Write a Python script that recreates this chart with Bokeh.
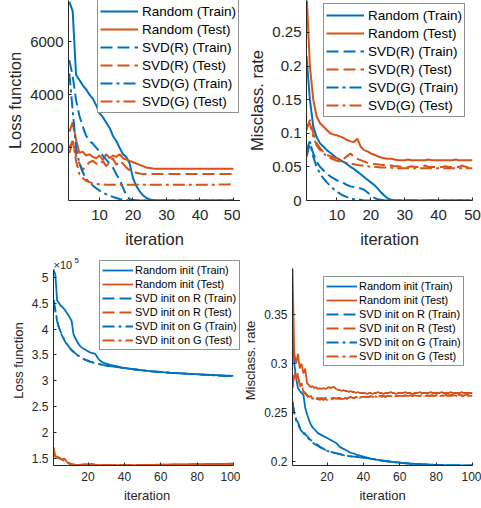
from bokeh.plotting import figure
from bokeh.models import Range1d, FixedTicker, CustomJSTickFormatter, Legend, LegendItem, Label
from bokeh.layouts import column, row
from bokeh.embed import file_html
from bokeh.resources import INLINE

FONT = "Liberation Sans"
BLUE = "#0072BD"
ORANGE = "#D95319"
AX = "#262626"

# ---------------- data: top-left (loss function, 50 iterations) ----------------
tl_rand_train = [7500, 7150, 4750, 4550, 4350, 4200, 4000, 3850, 3600, 3300,
                 3150, 2950, 2750, 2450, 2250, 2000, 1750, 1650, 1400, 850,
                 550, 350, 200, 100, 45, 20, 12, 8, 6, 5,
                 5, 5, 5, 5, 5, 5, 5, 5, 5, 5,
                 5, 5, 5, 5, 5, 5, 5, 5, 5, 5]
tl_rand_test = [2600, 2950, 2300, 1800, 1850, 1700, 1750, 1650, 1600, 1700,
                1550, 1750, 1600, 1700, 1650, 1750, 1600, 1550, 1500, 1450,
                1400, 1350, 1300, 1250, 1230, 1210, 1200, 1200, 1200, 1200,
                1200, 1200, 1200, 1200, 1200, 1200, 1200, 1200, 1200, 1200,
                1200, 1200, 1200, 1200, 1200, 1200, 1200, 1200, 1200, 1200]
tl_svdr_train = [5300, 4700, 3800, 3200, 2800, 2450, 2250, 2150, 2000, 1850,
                 1700, 1550, 1400, 1250, 1000, 800, 500, 200, 60, 20,
                 10, 8, 6, 5, 5, 5, 5, 5, 5, 5,
                 5, 5, 5, 5, 5, 5, 5, 5, 5, 5,
                 5, 5, 5, 5, 5, 5, 5, 5, 5, 5]
tl_svdr_test = [1800, 2250, 1700, 1400, 1150, 1300, 1450, 1500, 1400, 1350,
                1500, 1300, 1450, 1600, 1350, 1500, 1400, 1250, 1150, 1100,
                1050, 1020, 1000, 1000, 1000, 1000, 1000, 1000, 1000, 1000,
                1000, 1000, 1000, 1000, 1000, 1000, 1000, 1000, 1000, 1000,
                1000, 1000, 1000, 1000, 1000, 1000, 1000, 1000, 1000, 1000]
tl_svdg_train = [4800, 3400, 2000, 1400, 1070, 820, 680, 570, 470, 380,
                 300, 240, 190, 140, 100, 60, 40, 25, 15, 10,
                 5, 5, 5, 5, 5, 5, 5, 5, 5, 5,
                 5, 5, 5, 5, 5, 5, 5, 5, 5, 5,
                 5, 5, 5, 5, 5, 5, 5, 5, 5, 5]
tl_svdg_test = [2000, 2250, 1500, 1000, 850, 750, 700, 650, 630, 620,
                610, 600, 600, 600, 600, 600, 600, 600, 600, 600,
                600, 600, 600, 600, 600, 600, 600, 600, 600, 600,
                600, 600, 600, 600, 600, 600, 600, 600, 600, 600,
                600, 600, 600, 600, 600, 610, 610, 610, 620, 620]

# ---------------- data: top-right (misclassification rate, 50 iterations) ----------------
tr_rand_train = [0.215, 0.15, 0.11, 0.094, 0.085, 0.08, 0.075, 0.071, 0.067, 0.063,
                 0.06, 0.057, 0.054, 0.05, 0.047, 0.043, 0.039, 0.035, 0.031, 0.027,
                 0.023, 0.018, 0.012, 0.007, 0.003, 0.001, 0, 0, 0, 0,
                 0, 0, 0, 0, 0, 0, 0, 0, 0, 0,
                 0, 0, 0, 0, 0, 0, 0, 0, 0, 0]
tr_rand_test = [0.31, 0.2, 0.15, 0.125, 0.115, 0.11, 0.105, 0.1, 0.098, 0.097,
                0.095, 0.093, 0.09, 0.088, 0.087, 0.092, 0.08, 0.075, 0.073, 0.07,
                0.068, 0.066, 0.064, 0.063, 0.062, 0.062, 0.061, 0.06, 0.06, 0.06,
                0.061, 0.06, 0.06, 0.06, 0.06, 0.06, 0.061, 0.06, 0.06, 0.06,
                0.06, 0.06, 0.06, 0.06, 0.061, 0.06, 0.06, 0.06, 0.06, 0.06]
tr_svdr_train = [0.065, 0.085, 0.07, 0.058, 0.05, 0.045, 0.04, 0.036, 0.033, 0.03,
                 0.028, 0.026, 0.023, 0.021, 0.02, 0.019, 0.018, 0.016, 0.012, 0.008,
                 0.004, 0.002, 0.001, 0, 0, 0, 0, 0, 0, 0,
                 0, 0, 0, 0, 0, 0, 0, 0, 0, 0,
                 0, 0, 0, 0, 0, 0, 0, 0, 0, 0]
tr_svdr_test = [0.105, 0.12, 0.1, 0.085, 0.078, 0.072, 0.068, 0.066, 0.064, 0.063,
                0.062, 0.062, 0.066, 0.07, 0.065, 0.062, 0.06, 0.058, 0.056, 0.055,
                0.054, 0.054, 0.053, 0.053, 0.052, 0.052, 0.051, 0.051, 0.05, 0.05,
                0.05, 0.051, 0.05, 0.05, 0.05, 0.052, 0.05, 0.05, 0.05, 0.05,
                0.05, 0.051, 0.05, 0.05, 0.05, 0.05, 0.052, 0.05, 0.05, 0.05]
tr_svdg_train = [0.075, 0.088, 0.065, 0.05, 0.04, 0.033, 0.027, 0.022, 0.017, 0.013,
                 0.01, 0.007, 0.005, 0.003, 0.002, 0.001, 0.001, 0, 0, 0,
                 0, 0, 0, 0, 0, 0, 0, 0, 0, 0,
                 0, 0, 0, 0, 0, 0, 0, 0, 0, 0,
                 0, 0, 0, 0, 0, 0, 0, 0, 0, 0]
tr_svdg_test = [0.11, 0.115, 0.095, 0.082, 0.075, 0.07, 0.066, 0.063, 0.061, 0.059,
                0.058, 0.057, 0.056, 0.055, 0.054, 0.053, 0.052, 0.052, 0.051, 0.05,
                0.05, 0.05, 0.049, 0.049, 0.049, 0.049, 0.048, 0.048, 0.048, 0.048,
                0.048, 0.048, 0.048, 0.048, 0.048, 0.048, 0.048, 0.048, 0.048, 0.048,
                0.048, 0.048, 0.048, 0.048, 0.048, 0.048, 0.048, 0.048, 0.048, 0.048]

# ---------------- data: bottom-left (loss function x1e5, 100 iterations) ----------------
bl_rand_train = [5.15, 5.05, 4.55, 4.50, 4.45, 4.42, 4.38, 4.33, 4.28, 4.22,
                 4.15, 3.90, 3.82, 3.76, 3.70, 3.66, 3.63, 3.61, 3.59, 3.57,
                 3.55, 3.54, 3.53, 3.52, 3.46, 3.41, 3.38, 3.36, 3.34, 3.33,
                 3.32, 3.31, 3.30, 3.295, 3.29, 3.28, 3.27, 3.26, 3.255, 3.25,
                 3.245, 3.24, 3.235, 3.23, 3.225, 3.22, 3.215, 3.21, 3.205, 3.20,
                 3.197, 3.193, 3.19, 3.187, 3.184, 3.181, 3.178, 3.175, 3.172, 3.17,
                 3.167, 3.164, 3.162, 3.16, 3.157, 3.155, 3.153, 3.151, 3.149, 3.147,
                 3.145, 3.143, 3.141, 3.139, 3.137, 3.135, 3.133, 3.131, 3.13, 3.128,
                 3.126, 3.124, 3.122, 3.12, 3.118, 3.117, 3.115, 3.113, 3.112, 3.11,
                 3.108, 3.107, 3.105, 3.104, 3.102, 3.10, 3.099, 3.098, 3.096, 3.095]
bl_rand_test = [1.72, 1.55, 1.52, 1.50, 1.49, 1.48, 1.50, 1.45, 1.42, 1.40,
                1.39, 1.385, 1.38, 1.378, 1.375, 1.38, 1.385, 1.39, 1.39, 1.385,
                1.39, 1.395, 1.39, 1.38, 1.375, 1.372, 1.37, 1.37, 1.37, 1.37,
                1.37, 1.37, 1.37, 1.371, 1.371, 1.371, 1.371, 1.372, 1.372, 1.372,
                1.372, 1.373, 1.373, 1.373, 1.374, 1.374, 1.374, 1.375, 1.375, 1.375,
                1.376, 1.376, 1.377, 1.377, 1.378, 1.378, 1.379, 1.379, 1.38, 1.38,
                1.381, 1.381, 1.382, 1.382, 1.383, 1.383, 1.384, 1.384, 1.385, 1.385,
                1.386, 1.386, 1.387, 1.387, 1.388, 1.388, 1.389, 1.389, 1.39, 1.39,
                1.391, 1.391, 1.392, 1.392, 1.393, 1.393, 1.394, 1.394, 1.395, 1.395,
                1.396, 1.396, 1.397, 1.397, 1.398, 1.398, 1.399, 1.399, 1.40, 1.40]
bl_svdr_train = [4.55, 4.35, 4.15, 4.02, 3.93, 3.85, 3.78, 3.72, 3.67, 3.63,
                 3.59, 3.56, 3.53, 3.50, 3.47, 3.45, 3.43, 3.41, 3.40, 3.38,
                 3.37, 3.36, 3.35, 3.34, 3.33, 3.32, 3.315, 3.31, 3.30, 3.295,
                 3.29, 3.285, 3.28, 3.275, 3.27, 3.265, 3.26, 3.255, 3.25, 3.245,
                 3.24, 3.235, 3.23, 3.226, 3.222, 3.218, 3.214, 3.21, 3.206, 3.202,
                 3.198, 3.194, 3.19, 3.187, 3.184, 3.18, 3.177, 3.174, 3.171, 3.168,
                 3.165, 3.162, 3.16, 3.157, 3.155, 3.152, 3.15, 3.148, 3.146, 3.144,
                 3.142, 3.14, 3.138, 3.136, 3.134, 3.132, 3.13, 3.128, 3.126, 3.124,
                 3.122, 3.12, 3.118, 3.116, 3.114, 3.112, 3.11, 3.108, 3.106, 3.104,
                 3.102, 3.10, 3.098, 3.096, 3.094, 3.092, 3.09, 3.088, 3.086, 3.085]
bl_svdr_test = [1.57, 1.55, 1.53, 1.52, 1.50, 1.48, 1.46, 1.44, 1.42, 1.40,
                1.39, 1.38, 1.375, 1.372, 1.37, 1.37, 1.37, 1.369, 1.369, 1.369,
                1.369, 1.369, 1.369, 1.369, 1.369, 1.369, 1.369, 1.37, 1.37, 1.37,
                1.37, 1.37, 1.37, 1.37, 1.371, 1.371, 1.371, 1.371, 1.372, 1.372,
                1.372, 1.372, 1.373, 1.373, 1.373, 1.374, 1.374, 1.374, 1.375, 1.375,
                1.375, 1.376, 1.376, 1.377, 1.377, 1.377, 1.378, 1.378, 1.379, 1.379,
                1.38, 1.38, 1.38, 1.381, 1.381, 1.382, 1.382, 1.382, 1.383, 1.383,
                1.384, 1.384, 1.385, 1.385, 1.385, 1.386, 1.386, 1.387, 1.387, 1.388,
                1.388, 1.388, 1.389, 1.389, 1.39, 1.39, 1.39, 1.391, 1.391, 1.392,
                1.392, 1.392, 1.393, 1.393, 1.394, 1.394, 1.394, 1.395, 1.395, 1.395]
bl_svdg_train = [4.57, 4.37, 4.16, 4.03, 3.94, 3.86, 3.79, 3.73, 3.68, 3.63,
                 3.59, 3.56, 3.53, 3.50, 3.48, 3.45, 3.43, 3.42, 3.40, 3.39,
                 3.37, 3.36, 3.35, 3.34, 3.33, 3.325, 3.315, 3.31, 3.30, 3.295,
                 3.29, 3.285, 3.28, 3.275, 3.27, 3.265, 3.26, 3.255, 3.25, 3.245,
                 3.24, 3.235, 3.23, 3.226, 3.222, 3.218, 3.214, 3.21, 3.206, 3.203,
                 3.199, 3.195, 3.191, 3.188, 3.184, 3.181, 3.178, 3.175, 3.172, 3.169,
                 3.166, 3.163, 3.16, 3.158, 3.155, 3.153, 3.151, 3.149, 3.147, 3.145,
                 3.143, 3.141, 3.139, 3.137, 3.135, 3.133, 3.131, 3.129, 3.127, 3.125,
                 3.123, 3.121, 3.119, 3.117, 3.115, 3.113, 3.111, 3.109, 3.107, 3.105,
                 3.103, 3.101, 3.099, 3.097, 3.095, 3.093, 3.091, 3.089, 3.087, 3.086]
bl_svdg_test = [1.56, 1.54, 1.52, 1.51, 1.49, 1.47, 1.45, 1.43, 1.41, 1.395,
                1.385, 1.378, 1.373, 1.37, 1.369, 1.368, 1.368, 1.368, 1.368, 1.368,
                1.368, 1.368, 1.368, 1.368, 1.368, 1.368, 1.368, 1.369, 1.369, 1.369,
                1.369, 1.369, 1.37, 1.37, 1.37, 1.37, 1.371, 1.371, 1.371, 1.371,
                1.372, 1.372, 1.372, 1.373, 1.373, 1.373, 1.374, 1.374, 1.374, 1.374,
                1.375, 1.375, 1.376, 1.376, 1.376, 1.377, 1.377, 1.378, 1.378, 1.378,
                1.379, 1.379, 1.38, 1.38, 1.381, 1.381, 1.381, 1.382, 1.382, 1.383,
                1.383, 1.383, 1.384, 1.384, 1.385, 1.385, 1.385, 1.386, 1.386, 1.387,
                1.387, 1.387, 1.388, 1.388, 1.389, 1.389, 1.389, 1.39, 1.39, 1.391,
                1.391, 1.391, 1.392, 1.392, 1.393, 1.393, 1.393, 1.394, 1.394, 1.394]

# ---------------- data: bottom-right (misclassification rate, 100 iterations) ----------------
br_rand_train = [0.334, 0.30, 0.285, 0.275, 0.272, 0.27, 0.268, 0.255, 0.248, 0.243,
                 0.238, 0.235, 0.233, 0.231, 0.229, 0.228, 0.227, 0.226, 0.225, 0.224,
                 0.223, 0.222, 0.221, 0.22, 0.219, 0.217, 0.215, 0.214, 0.213, 0.212,
                 0.211, 0.21, 0.209, 0.2085, 0.208, 0.207, 0.2065, 0.206, 0.2055, 0.205,
                 0.2045, 0.204, 0.2035, 0.203, 0.2027, 0.2024, 0.2021, 0.2018, 0.2015, 0.2012,
                 0.201, 0.2007, 0.2004, 0.2001, 0.1999, 0.1997, 0.1995, 0.1993, 0.1991, 0.1989,
                 0.1987, 0.1985, 0.1984, 0.1982, 0.1981, 0.1979, 0.1978, 0.1977, 0.1976, 0.1975,
                 0.1974, 0.1973, 0.1972, 0.1971, 0.197, 0.1969, 0.1968, 0.1968, 0.1967, 0.1966,
                 0.1966, 0.1965, 0.1965, 0.1964, 0.1964, 0.1963, 0.1963, 0.1962, 0.1962, 0.1962,
                 0.1961, 0.1961, 0.1961, 0.1961, 0.196, 0.196, 0.196, 0.196, 0.196, 0.196]
br_rand_test = [0.397, 0.31, 0.30, 0.31, 0.295, 0.30, 0.29, 0.295, 0.28, 0.278,
                0.276, 0.277, 0.275, 0.276, 0.274, 0.275, 0.274, 0.275, 0.274, 0.275,
                0.276, 0.275, 0.276, 0.276, 0.274, 0.273, 0.273, 0.272, 0.273, 0.272,
                0.272, 0.271, 0.272, 0.271, 0.271, 0.270, 0.271, 0.270, 0.270, 0.270,
                0.270, 0.269, 0.270, 0.270, 0.269, 0.270, 0.270, 0.271, 0.270, 0.270,
                0.269, 0.270, 0.270, 0.270, 0.271, 0.270, 0.270, 0.269, 0.270, 0.270,
                0.270, 0.270, 0.271, 0.270, 0.270, 0.270, 0.269, 0.270, 0.270, 0.270,
                0.271, 0.270, 0.270, 0.270, 0.270, 0.270, 0.271, 0.270, 0.270, 0.270,
                0.270, 0.270, 0.271, 0.270, 0.270, 0.270, 0.270, 0.271, 0.270, 0.270,
                0.270, 0.270, 0.270, 0.271, 0.270, 0.270, 0.270, 0.270, 0.270, 0.270]
br_svdr_train = [0.262, 0.25, 0.243, 0.24, 0.235, 0.232, 0.23, 0.228, 0.226, 0.224,
                 0.222, 0.221, 0.219, 0.218, 0.217, 0.215, 0.214, 0.213, 0.212, 0.211,
                 0.2105, 0.21, 0.2095, 0.209, 0.2085, 0.208, 0.2075, 0.207, 0.2065, 0.206,
                 0.2058, 0.2056, 0.2054, 0.2052, 0.205, 0.2048, 0.2046, 0.2044, 0.2042, 0.204,
                 0.2038, 0.2035, 0.2032, 0.2029, 0.2026, 0.2023, 0.202, 0.2017, 0.2014, 0.2011,
                 0.2009, 0.2006, 0.2003, 0.2001, 0.1999, 0.1997, 0.1995, 0.1993, 0.1991, 0.1989,
                 0.1987, 0.1985, 0.1984, 0.1982, 0.1981, 0.1979, 0.1978, 0.1977, 0.1976, 0.1975,
                 0.1974, 0.1973, 0.1972, 0.1971, 0.197, 0.1969, 0.1968, 0.1968, 0.1967, 0.1966,
                 0.1966, 0.1965, 0.1965, 0.1964, 0.1964, 0.1963, 0.1963, 0.1962, 0.1962, 0.1962,
                 0.1961, 0.1961, 0.1961, 0.1961, 0.196, 0.196, 0.196, 0.196, 0.196, 0.196]
br_svdr_test = [0.276, 0.292, 0.285, 0.29, 0.278, 0.28, 0.272, 0.27, 0.268, 0.266,
                0.267, 0.265, 0.266, 0.264, 0.265, 0.264, 0.265, 0.264, 0.265, 0.264,
                0.265, 0.264, 0.265, 0.265, 0.264, 0.265, 0.265, 0.264, 0.265, 0.265,
                0.265, 0.265, 0.266, 0.265, 0.265, 0.266, 0.265, 0.266, 0.266, 0.266,
                0.266, 0.266, 0.266, 0.267, 0.266, 0.266, 0.267, 0.266, 0.267, 0.267,
                0.267, 0.266, 0.267, 0.267, 0.267, 0.267, 0.266, 0.267, 0.267, 0.267,
                0.267, 0.267, 0.268, 0.267, 0.267, 0.267, 0.267, 0.268, 0.267, 0.267,
                0.267, 0.268, 0.267, 0.267, 0.268, 0.267, 0.267, 0.268, 0.267, 0.268,
                0.268, 0.267, 0.268, 0.267, 0.268, 0.268, 0.267, 0.268, 0.268, 0.268,
                0.267, 0.268, 0.268, 0.268, 0.267, 0.268, 0.268, 0.268, 0.268, 0.268]
br_svdg_train = [0.26, 0.249, 0.242, 0.238, 0.234, 0.231, 0.229, 0.227, 0.225, 0.223,
                 0.221, 0.22, 0.218, 0.217, 0.216, 0.215, 0.214, 0.213, 0.212, 0.211,
                 0.2105, 0.21, 0.2095, 0.209, 0.2085, 0.208, 0.2075, 0.207, 0.2065, 0.206,
                 0.2057, 0.2055, 0.2053, 0.2051, 0.2049, 0.2047, 0.2045, 0.2043, 0.2041, 0.2039,
                 0.2037, 0.2034, 0.2031, 0.2028, 0.2025, 0.2022, 0.2019, 0.2016, 0.2013, 0.201,
                 0.2008, 0.2005, 0.2002, 0.2, 0.1998, 0.1996, 0.1994, 0.1992, 0.199, 0.1988,
                 0.1986, 0.1984, 0.1983, 0.1981, 0.198, 0.1978, 0.1977, 0.1976, 0.1975, 0.1974,
                 0.1973, 0.1972, 0.1971, 0.197, 0.1969, 0.1968, 0.1967, 0.1967, 0.1966, 0.1965,
                 0.1965, 0.1964, 0.1964, 0.1963, 0.1963, 0.1962, 0.1962, 0.1961, 0.1961, 0.1961,
                 0.196, 0.196, 0.196, 0.196, 0.1959, 0.1959, 0.1959, 0.1959, 0.1959, 0.1959]
br_svdg_test = [0.275, 0.29, 0.283, 0.288, 0.276, 0.279, 0.271, 0.269, 0.267, 0.265,
                0.266, 0.264, 0.265, 0.263, 0.264, 0.263, 0.264, 0.263, 0.264, 0.263,
                0.264, 0.263, 0.264, 0.264, 0.263, 0.264, 0.264, 0.264, 0.264, 0.265,
                0.264, 0.265, 0.265, 0.265, 0.265, 0.265, 0.266, 0.265, 0.266, 0.266,
                0.266, 0.266, 0.266, 0.266, 0.266, 0.267, 0.266, 0.266, 0.267, 0.266,
                0.267, 0.266, 0.267, 0.267, 0.267, 0.266, 0.267, 0.267, 0.267, 0.267,
                0.267, 0.267, 0.267, 0.267, 0.267, 0.268, 0.267, 0.267, 0.267, 0.267,
                0.267, 0.267, 0.268, 0.267, 0.267, 0.267, 0.268, 0.267, 0.267, 0.267,
                0.268, 0.267, 0.267, 0.268, 0.267, 0.267, 0.268, 0.267, 0.267, 0.268,
                0.267, 0.267, 0.268, 0.267, 0.267, 0.268, 0.267, 0.267, 0.267, 0.267]

top_names = ["Random (Train)", "Random (Test)", "SVD(R) (Train)",
             "SVD(R) (Test)", "SVD(G) (Train)", "SVD(G) (Test)"]
bottom_names = ["Random init (Train)", "Random init (Test)", "SVD init on R (Train)",
                "SVD init on R (Test)", "SVD init on G (Train)", "SVD init on G (Test)"]
top_xticks = [10, 20, 30, 40, 50]
bottom_xticks = [20, 40, 60, 80, 100]
tl_yticks = [2000, 4000, 6000]
tr_yticks = [0, 0.05, 0.1, 0.15, 0.2, 0.25]
bl_yticks = [1.5, 2, 2.5, 3, 3.5, 4, 4.5, 5]
br_yticks = [0.2, 0.25, 0.3, 0.35]

COLORS = [BLUE, ORANGE, BLUE, ORANGE, BLUE, ORANGE]


def make_fig(w, h, mb, xr, yr, xticks, yticks, ylabel, tick_fs, label_fs,
             tick_standoff_x, tick_standoff_y, lab_standoff_x, lab_standoff_y):
    p = figure(width=w, height=h, x_range=Range1d(*xr), y_range=Range1d(*yr),
               output_backend="svg", toolbar_location=None,
               min_border_left=mb[0], min_border_right=mb[1],
               min_border_top=mb[2], min_border_bottom=mb[3])
    p.outline_line_color = None
    p.grid.visible = False
    p.background_fill_color = "white"
    p.border_fill_color = "white"
    for ax in (p.xaxis[0], p.yaxis[0]):
        ax.axis_line_color = AX
        ax.axis_line_width = 1
        ax.major_tick_in = 3
        ax.major_tick_out = 0
        ax.major_tick_line_color = AX
        ax.minor_tick_line_color = None
        ax.major_label_text_font = FONT
        ax.major_label_text_font_size = tick_fs
        ax.major_label_text_color = AX
        ax.axis_label_text_font = FONT
        ax.axis_label_text_font_size = label_fs
        ax.axis_label_text_font_style = "normal"
        ax.axis_label_text_color = AX
        ax.formatter = CustomJSTickFormatter(code="return String(tick);")
    p.xaxis[0].ticker = FixedTicker(ticks=xticks)
    p.yaxis[0].ticker = FixedTicker(ticks=yticks)
    p.xaxis[0].axis_label = "iteration"
    p.yaxis[0].axis_label = ylabel
    p.xaxis[0].major_label_standoff = tick_standoff_x
    p.yaxis[0].major_label_standoff = tick_standoff_y
    p.xaxis[0].axis_label_standoff = lab_standoff_x
    p.yaxis[0].axis_label_standoff = lab_standoff_y
    return p


def add_lines(p, series, names, lw, legend_loc, fs, glyph_w, row_h, pad, standoff):
    dashes = ["solid", "solid", "12 5", "12 5", "12 4 3 4", "12 4 3 4"]
    items = []
    for ys, name, col, dash in zip(series, names, COLORS, dashes):
        xs = list(range(1, len(ys) + 1))
        r = p.line(xs, ys, line_color=col, line_width=lw, line_dash=dash)
        items.append(LegendItem(label=name, renderers=[r]))
    leg = Legend(items=items, location=legend_loc, orientation="vertical",
                 label_text_font=FONT, label_text_font_size=fs, label_text_color="black",
                 glyph_width=glyph_w, glyph_height=row_h, label_height=row_h,
                 label_standoff=standoff, padding=pad, spacing=0, margin=0,
                 border_line_color=AX, border_line_width=1,
                 background_fill_color="white", background_fill_alpha=1.0)
    p.add_layout(leg, "center")


# top-left
p1 = make_fig(240, 250, (68, 0, 0, 50), (0.75, 52.1), (5, 7550), top_xticks, tl_yticks,
              "Loss function", "15px", "16.5px", 9, 5, 7, 3)
add_lines(p1, [tl_rand_train, tl_rand_test, tl_svdr_train, tl_svdr_test, tl_svdg_train, tl_svdg_test],
          top_names, 2, (29, 87), "13.5px", 38, 18, 2, 4)

# top-right
p2 = make_fig(241, 250, (66, 9, 0, 50), (1, 50), (0, 0.2976), top_xticks, tr_yticks,
              "Misclass. rate", "15px", "16.5px", 9, 5, 7, 3)
add_lines(p2, [tr_rand_train, tr_rand_test, tr_svdr_train, tr_svdr_test, tr_svdg_train, tr_svdg_test],
          top_names, 2, (17, 83), "13.5px", 38, 18, 2, 4)

# bottom-left: frame enlarged (axis lines bounded to the data limits) so the legend fits
p3 = make_fig(240, 258, (53, 0, 5, 43), (1, 103.85), (1.365, 5.419), bottom_xticks, bl_yticks,
              "Loss function", "12px", "13px", 6, 5, 4, 3)
p3.xaxis[0].bounds = (1, 100)
p3.yaxis[0].bounds = (1.365, 5.155)
add_lines(p3, [bl_rand_train, bl_rand_test, bl_svdr_train, bl_svdr_test, bl_svdg_train, bl_svdg_test],
          bottom_names, 1.8, (46, 115), "11px", 31, 14, 2, 2)
p3.add_layout(Label(x=1, y=5.155, text="×10", x_offset=0, y_offset=4,
                    text_font=FONT, text_font_size="11px",
                    text_color=AX, text_baseline="alphabetic"))
p3.add_layout(Label(x=1, y=5.155, text="5", x_offset=21, y_offset=9,
                    text_font=FONT, text_font_size="8px",
                    text_color=AX, text_baseline="alphabetic"))

# bottom-right: same frame top as bottom-left (row aligns frames)
p4 = make_fig(241, 258, (52, 9, 5, 43), (1, 100), (0.196, 0.4103), bottom_xticks, br_yticks,
              "Misclass. rate", "12px", "13px", 6, 5, 4, 3)
p4.yaxis[0].bounds = (0.196, 0.397)
add_lines(p4, [br_rand_train, br_rand_test, br_svdr_train, br_svdr_test, br_svdg_train, br_svdg_test],
          bottom_names, 1.8, (31, 99), "11px", 31, 14, 2, 2)

root = column(row(p1, p2, spacing=0), row(p3, p4, spacing=0), spacing=0)

open("out.html", "w").write(file_html(root, INLINE))
